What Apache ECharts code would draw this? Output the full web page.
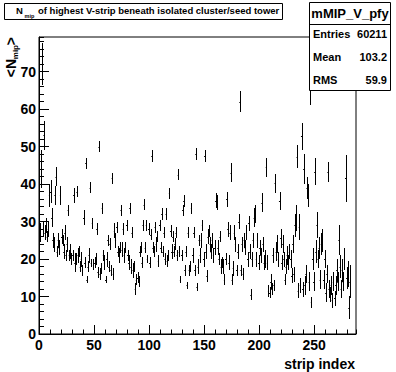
<!DOCTYPE html>
<html><head><meta charset="utf-8">
<script src="https://cdn.jsdelivr.net/npm/echarts@6/dist/echarts.min.js"></script>
<style>html,body{margin:0;padding:0;background:#fff}#c{width:396px;height:372px}</style>
</head><body><div id="c"></div>
<script>
// mean N_mip per strip (profile), bins 0..282 (283..287 empty)
const stripValues = [
  27, 44, 72, 28, 53, 27, 29, 26, 28, 37,
  38, 31, 25, 24, 37, 42, 22, 25, 23, 37,
  26, 25, 22, 27, 21, 24, 33, 21, 22, 20,
  21, 37, 19, 20, 38, 21, 22, 18, 20, 17,
  31, 19, 45.5, 14.5, 18, 21, 39, 19, 29.5, 18.5,
  19, 20, 28, 16.5, 50, 16, 17.5, 33.5, 21, 19,
  14.5, 20, 25, 18, 24, 17, 41.5, 16, 27.5, 25,
  28.5, 22, 21, 23, 33, 22.5, 28, 21, 23, 29,
  21, 19, 33.5, 18, 27, 17, 18, 12, 14.5, 15,
  14, 22, 23, 19, 29, 34.5, 23, 29, 20, 28,
  19, 26.5, 47.5, 23, 22, 28.5, 24, 26, 19.5, 29,
  23, 32, 22, 27, 20, 32, 19.5, 21, 37.5, 27.5,
  22, 26, 22, 24, 27, 21, 42.5, 22, 14.5, 21,
  33, 35.5, 17, 22, 13, 27, 17, 18, 33.5, 21,
  27, 17, 48, 12.5, 18, 25, 21, 25, 29, 20,
  47.5, 22, 15.5, 26, 27.5, 24, 22, 25, 21, 23,
  35.5, 35, 23, 20, 26, 18, 19, 18, 14.5, 20,
  36, 28, 19, 27, 43, 14.5, 17.5, 27, 24, 17,
  22, 30, 62, 17, 24, 16, 25, 23, 27, 20,
  29.5, 22, 10.5, 20, 25, 31, 32, 20, 25, 19,
  23, 21, 35, 24, 19, 20, 44.5, 19, 11.5, 11,
  14, 12, 21, 13, 40.2, 22, 24, 20, 35.5, 25.5,
  19, 24, 20, 14.5, 18, 21, 19, 22, 20, 15.5,
  24, 16, 29, 31, 47.3, 11.5, 28.6, 13, 52.7, 12,
  44, 13, 16, 39, 37, 14, 66, 8.5, 20, 14,
  43.3, 22, 29, 20, 23, 14.5, 24, 25, 14.5, 20,
  11, 16, 43.3, 12, 10.5, 13, 9, 14, 9.5, 13,
  17, 14, 25, 18, 12, 17, 14, 20, 41.5, 15,
  16, 7, 14
];
const stripErrors = [
  2.5, 5, 5.5, 2, 3.8, 2, 2, 1.5, 2, 3,
  3, 2.5, 2, 2, 2.5, 2.5, 1.5, 2, 2, 2.5,
  2, 1.5, 2, 2, 1.5, 2, 1.5, 1.5, 2, 1.5,
  1.5, 2, 2.5, 1.5, 1.5, 2, 1.5, 1.5, 2, 1.5,
  2, 1.5, 1.5, 1, 1.5, 2, 1.5, 1, 1.5, 1.5,
  1.5, 1.5, 1.5, 1.5, 1.5, 1.5, 1.5, 1.5, 1.5, 2,
  1, 2, 1.5, 1.5, 1.5, 1.5, 1.5, 1.5, 2, 2,
  1.5, 1.5, 2, 1.5, 1.5, 2, 1.5, 2, 1.5, 1.5,
  1.5, 2, 1.5, 2, 1.5, 2, 1.5, 1.5, 1.5, 1.5,
  1.5, 1.5, 1.5, 1.5, 1.5, 1.5, 1.5, 1.5, 1, 1.5,
  1.5, 1.5, 1.5, 1.5, 1.5, 1.5, 2, 1.5, 1.5, 1.5,
  1.5, 1.5, 1.5, 1.5, 1.5, 1.5, 1.5, 1.5, 1.5, 1.5,
  2, 1.5, 1.5, 1.5, 1.5, 1.5, 1.5, 1.5, 1, 1.5,
  1.5, 1.5, 1.5, 1.5, 1, 1.5, 1.5, 1.5, 1.5, 2,
  1.5, 1.5, 1.5, 1, 2, 1.5, 2, 2, 1.5, 2,
  1.5, 2, 1.5, 2, 1.5, 2, 2, 2, 2, 2,
  2, 2, 2, 1.5, 1.5, 2, 1.5, 2, 1.5, 1.5,
  2, 2, 2, 2, 2.5, 1.5, 2, 2, 2, 1.5,
  2, 2, 2.7, 1.5, 2, 1.5, 2, 2, 2, 2,
  2, 2, 1.5, 2, 2, 2.5, 2.5, 2, 2, 2,
  2, 2, 2.5, 2, 2, 2.5, 2.5, 2, 1.5, 1.5,
  2, 1.5, 2, 1.5, 2.5, 2.5, 2.5, 2, 2.5, 2.5,
  2, 2.5, 2, 1.5, 2, 2.5, 2, 2, 2.5, 2,
  2.5, 2, 3, 3.5, 3.1, 2, 3.5, 2, 3.6, 2,
  4, 2.5, 2.5, 3, 3, 2.5, 5, 1.5, 3, 2.5,
  3.6, 3, 3.5, 2.5, 3, 2.5, 3, 3, 2.5, 2.5,
  2.5, 2.5, 2.7, 2.5, 2, 2.5, 2, 2.5, 2, 2.5,
  3, 2.5, 4, 3, 2.5, 3, 2.5, 3, 6.2, 3,
  3.5, 3.1, 4.5
];
const xRange = [0, 288];
const yRange = [0, 79.2];
const titleText = 'of highest V-strip beneath isolated cluster/seed tower';
const statsName = 'mMIP_V_pfy';
const statsRows = [['Entries', '60211'], ['Mean', '103.2'], ['RMS', '59.9']];

const F = '"Liberation Sans", Arial, Helvetica, sans-serif';
const data = stripValues.map((v, i) => [i + 0.5, v, stripErrors[i]]);

const chart = echarts.init(document.getElementById('c'), null, {renderer: 'svg'});

function axisCommon() {
  return {
    type: 'value',
    axisLine: {show: true, onZero: false, lineStyle: {color: '#000', width: 1}},
    splitLine: {show: false},
    minorTick: {show: false}
  };
}
function txt(x, y, text, font, align, extra) {
  return Object.assign({type: 'text', z: 101, x: x, y: y,
    style: {text: text, font: font, fill: '#000', align: align, verticalAlign: 'middle', textAlign: align, textVerticalAlign: 'middle'}}, extra || {});
}

const graphics = [
  {type: 'rect', z: 100, shape: {x: 4.5, y: 3.5, width: 278, height: 16}, style: {fill: '#fff', stroke: '#000', lineWidth: 1}},
  txt(16, 10.5, 'N', 'bold 9.5px ' + F, 'left'),
  txt(24.5, 15.5, 'mip', 'bold 5.5px ' + F, 'left'),
  txt(38, 10.5, titleText, 'bold 9.5px ' + F, 'left'),
  // stats box
  {type: 'rect', z: 100, shape: {x: 309.5, y: 2.5, width: 81, height: 88}, style: {fill: '#fff', stroke: '#000', lineWidth: 1}},
  {type: 'line', z: 101, shape: {x1: 309.5, y1: 24.5, x2: 390.5, y2: 24.5}, style: {stroke: '#000', lineWidth: 1}},
  txt(350, 13.5, statsName, 'bold 13px ' + F, 'center'),
  // y axis title (rotated)
  txt(11, 37, '>', 'bold 14px ' + F, 'right', {rotation: Math.PI / 2}),
  txt(15.5, 45, 'mip', 'bold 8px ' + F, 'right', {rotation: Math.PI / 2}),
  txt(11, 59, '<N', 'bold 14px ' + F, 'right', {rotation: Math.PI / 2}),
  // x axis title
  txt(355, 364, 'strip index', 'bold 14px ' + F, 'right')
];
statsRows.forEach((r, k) => {
  const y = 33.5 + k * 23;
  graphics.push(txt(313, y, r[0], 'bold 11px ' + F, 'left'));
  graphics.push(txt(387, y, r[1], 'bold 11px ' + F, 'right'));
});

const option = {
  backgroundColor: '#fff',
  animation: false,
  grid: {left: 39, right: 40, top: 37, bottom: 38, show: true, borderColor: '#000', borderWidth: 1, backgroundColor: 'transparent', containLabel: false, outerBoundsMode: 'none'},
  xAxis: [
    Object.assign(axisCommon(), {
      min: xRange[0], max: xRange[1], interval: 50, position: 'bottom',
      axisTick: {show: true, inside: true, length: 9, lineStyle: {color: '#000', width: 1}},
      axisLabel: {show: true, color: '#000', fontFamily: F, fontWeight: 'bold', fontSize: 14, margin: 4, showMaxLabel: false}
    }),
    Object.assign(axisCommon(), {
      min: xRange[0], max: xRange[1], interval: 10, position: 'bottom',
      axisLine: {show: false, onZero: false},
      axisTick: {show: true, inside: true, length: 4.5, lineStyle: {color: '#000', width: 1}},
      axisLabel: {show: false}
    })
  ],
  yAxis: [
    Object.assign(axisCommon(), {
      min: yRange[0], max: yRange[1], interval: 10, position: 'left',
      axisTick: {show: true, inside: true, length: 10, lineStyle: {color: '#000', width: 1}},
      axisLabel: {show: true, color: '#000', fontFamily: F, fontWeight: 'bold', fontSize: 14, margin: 3, showMaxLabel: false}
    }),
    Object.assign(axisCommon(), {
      min: yRange[0], max: yRange[1], interval: 2, position: 'left',
      axisLine: {show: false, onZero: false},
      axisTick: {show: true, inside: true, length: 5, lineStyle: {color: '#000', width: 1}},
      axisLabel: {show: false}
    })
  ],
  series: [{
    type: 'custom',
    xAxisIndex: 0, yAxisIndex: 0,
    clip: true,
    data: data,
    renderItem: function (params, api) {
      const x = api.value(0), y = api.value(1), e = api.value(2);
      const c = api.coord([x, y]);
      const t = api.coord([x, y + e]);
      const b = api.coord([x, y - e]);
      const half = api.size([1, 0])[0] / 2;
      const cx = Math.round(c[0]) + 0.5;
      const cy = Math.round(c[1]) + 0.5;
      return {
        type: 'group',
        children: [
          {type: 'line', shape: {x1: cx, y1: Math.round(t[1]), x2: cx, y2: Math.round(b[1])}, style: {stroke: '#000', lineWidth: 1}},
          {type: 'line', shape: {x1: c[0] - half, y1: cy, x2: c[0] + half, y2: cy}, style: {stroke: '#000', lineWidth: 1}}
        ]
      };
    }
  }],
  graphic: graphics
};
chart.setOption(option);
</script>
</body></html>
